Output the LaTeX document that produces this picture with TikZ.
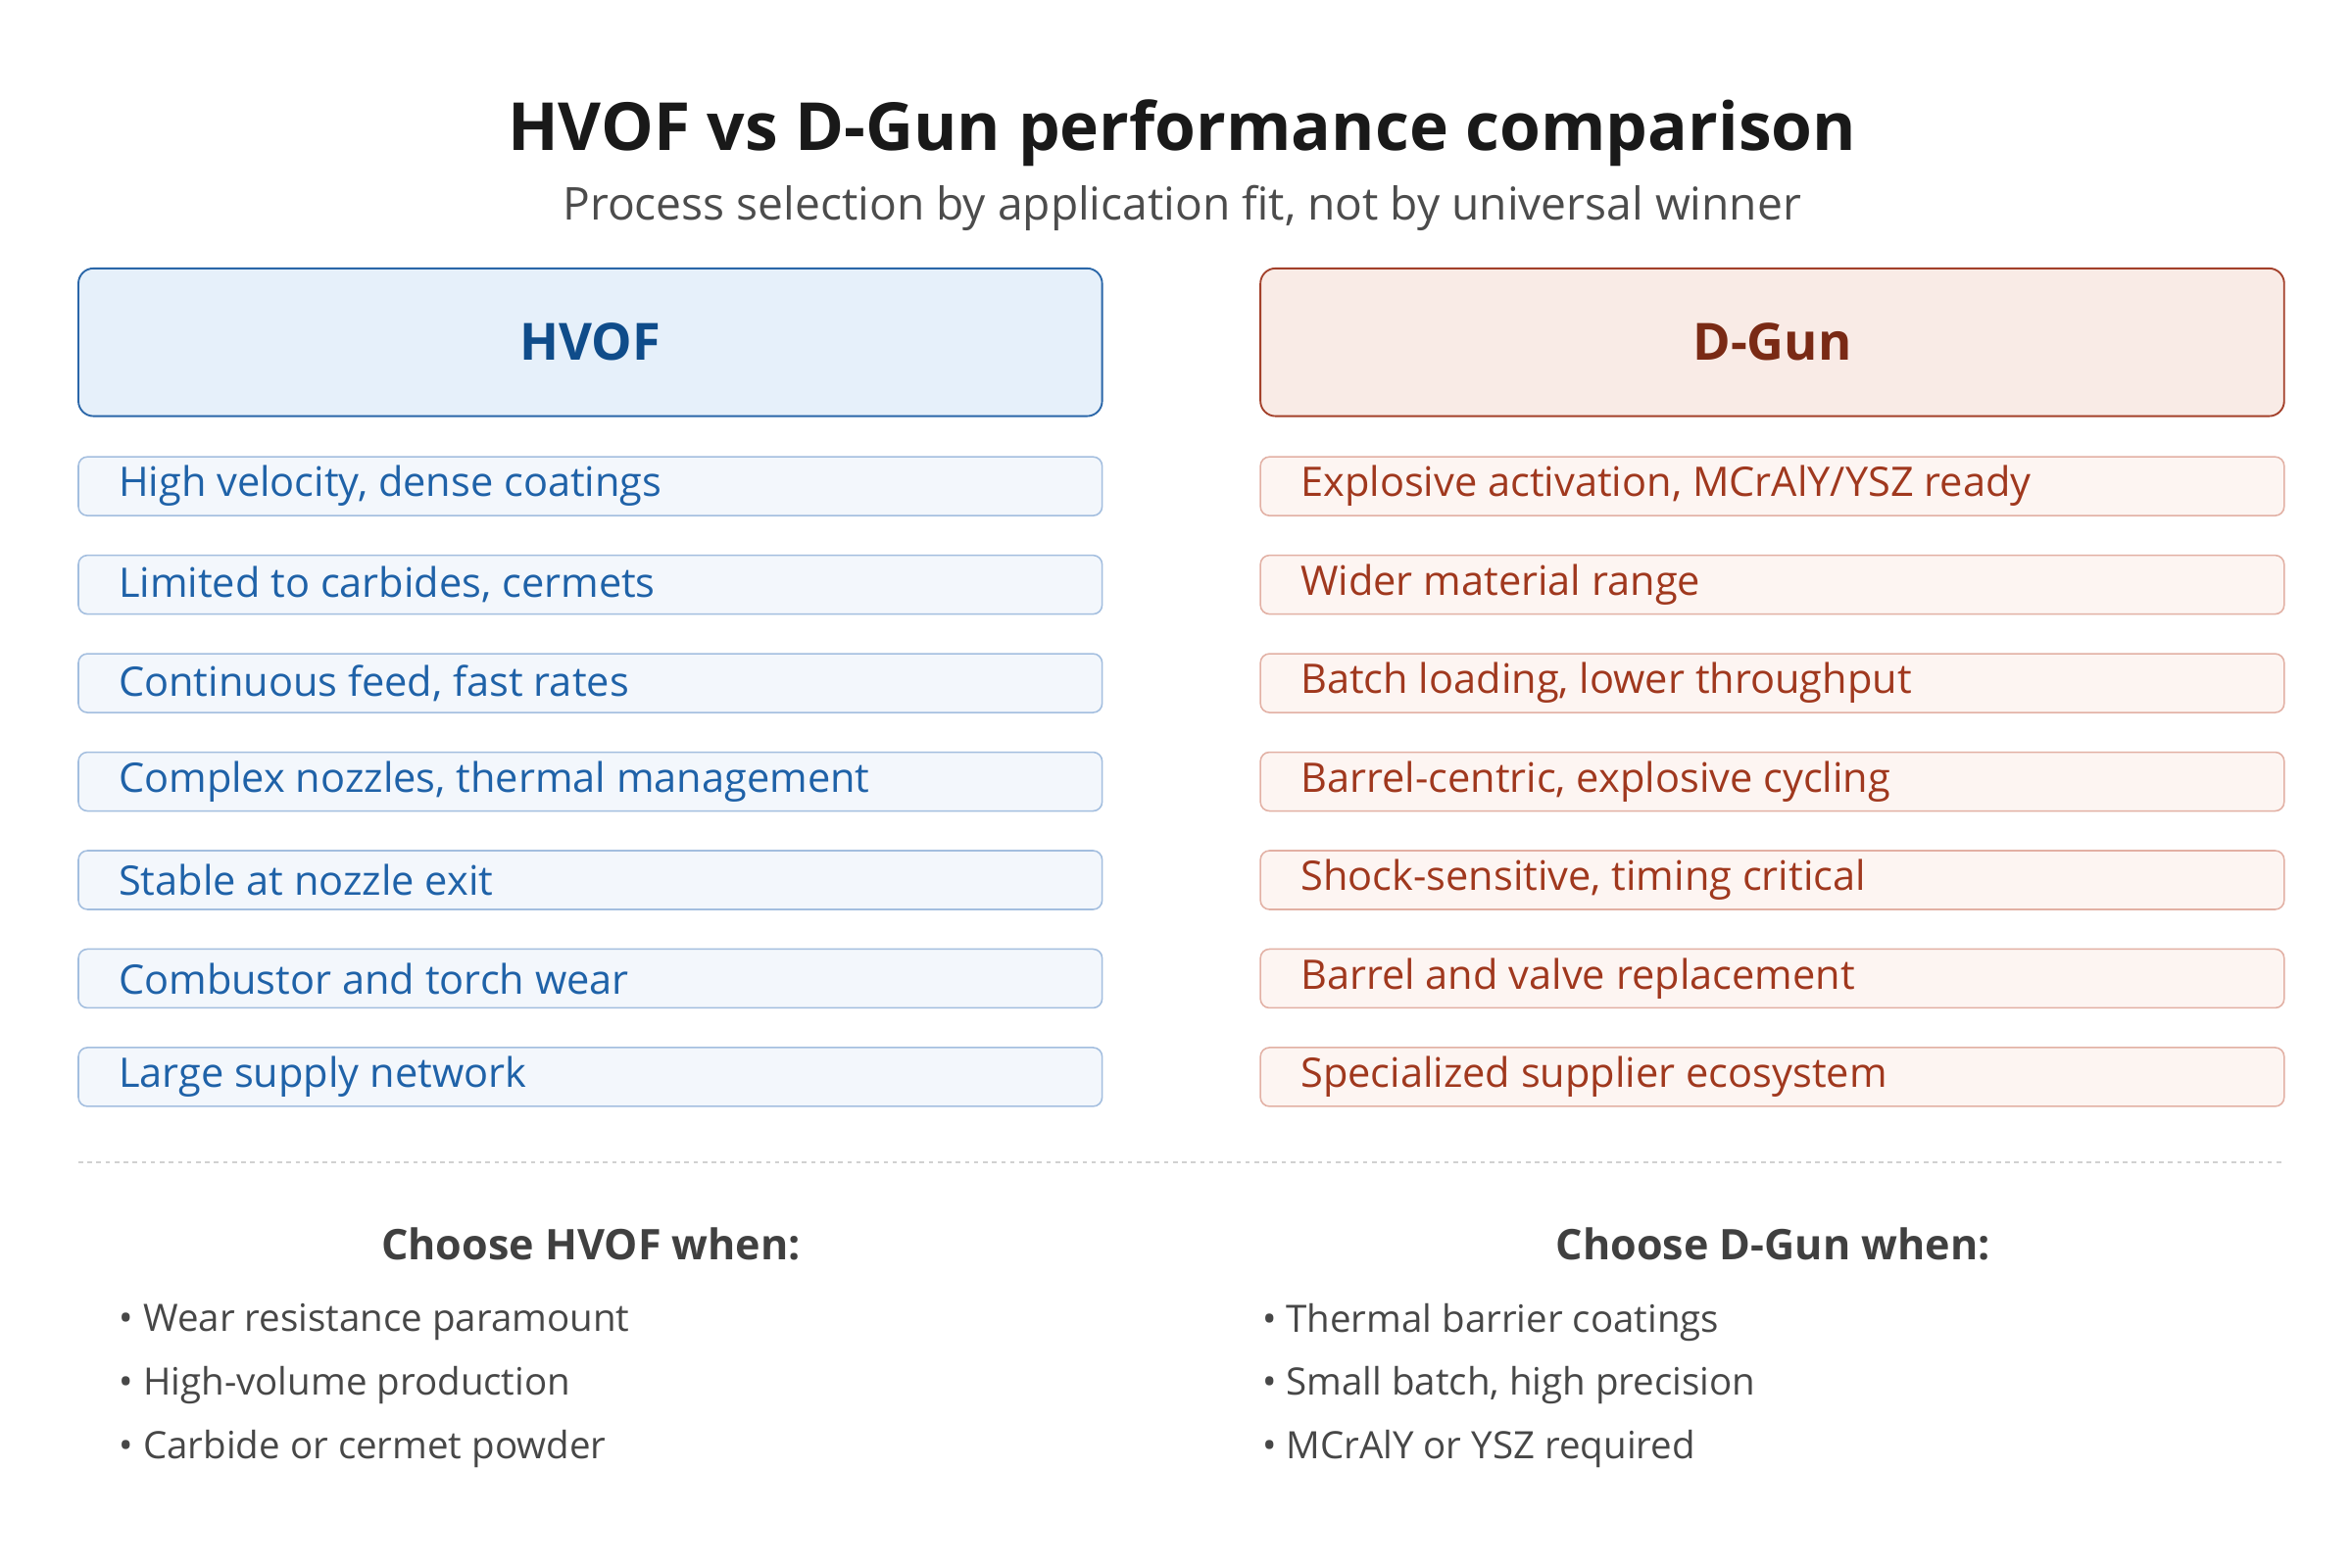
\documentclass[tikz,border=0pt]{standalone}
\usepackage{fontspec}
\setmainfont{Open Sans}
\definecolor{hvline}{HTML}{2A66A8}
\definecolor{hvfill}{HTML}{E6F0FA}
\definecolor{hvtext}{HTML}{0F4C8A}
\definecolor{hvrowfill}{HTML}{F3F7FC}
\definecolor{hvrowline}{HTML}{A3BEDF}
\definecolor{hvrowtext}{HTML}{1F62A8}
\definecolor{dgline}{HTML}{A3402A}
\definecolor{dgfill}{HTML}{F9EBE6}
\definecolor{dgtext}{HTML}{7A2A15}
\definecolor{dgrowfill}{HTML}{FDF5F2}
\definecolor{dgrowline}{HTML}{E2B0A4}
\definecolor{dgrowtext}{HTML}{A0381E}
\tikzset{
  headbox/.style={rounded corners=10pt, line width=1.2pt, minimum width=679pt, minimum height=98pt, font=\fontsize{34}{40}\selectfont\bfseries},
  rowbox/.style={rounded corners=6pt, line width=1pt, minimum width=679pt, minimum height=39pt},
  rowtext/.style={anchor=west, inner sep=0pt, font=\fontsize{27}{32}\selectfont},
  bullet/.style={anchor=west, inner sep=0pt, text=black!72, font=\fontsize{25}{30}\selectfont}
}
\begin{document}
\begin{tikzpicture}[x=1pt, y=-1pt]
\useasboundingbox[fill=white] (0,0) rectangle (1560,1040);

\node[font=\fontsize{44}{52}\selectfont\bfseries, text=black!90] (title) at (784,88) {HVOF vs D-Gun performance comparison};
\node[font=\fontsize{30}{36}\selectfont, text=black!70] (subtitle) at (784,138) {Process selection by application fit, not by universal winner};

\node[headbox, draw=hvline, fill=hvfill, text=hvtext] (hvof) at (391.5,227) {HVOF};
\node[headbox, draw=dgline, fill=dgfill, text=dgtext] (dgun) at (1175.5,227) {D-Gun};

% comparison rows
\foreach \i/\ltxt/\rtxt in {
  0/{High velocity, dense coatings}/{Explosive activation, MCrAlY/YSZ ready},
  1/{Limited to carbides, cermets}/{Wider material range},
  2/{Continuous feed, fast rates}/{Batch loading, lower throughput},
  3/{Complex nozzles, thermal management}/{Barrel-centric, explosive cycling},
  4/{Stable at nozzle exit}/{Shock-sensitive, timing critical},
  5/{Combustor and torch wear}/{Barrel and valve replacement},
  6/{Large supply network}/{Specialized supplier ecosystem}} {
  \node[rowbox, draw=hvrowline, fill=hvrowfill] (hv\i) at (391.5,322.5+65.3*\i) {};
  \node[rowtext, text=hvrowtext] at ([xshift=27pt]hv\i.west) {\ltxt};
  \node[rowbox, draw=dgrowline, fill=dgrowfill] (dg\i) at (1175.5,322.5+65.3*\i) {};
  \node[rowtext, text=dgrowtext] at ([xshift=27pt]dg\i.west) {\rtxt};
}

\draw[black!18, dashed, line width=1pt] (52,771) -- (1515,771);

\node[font=\fontsize{28}{34}\selectfont\bfseries, text=black!75] (hvwhen) at (392,825) {Choose HVOF when:};
\node[font=\fontsize{28}{34}\selectfont\bfseries, text=black!75] (dgwhen) at (1176,825) {Choose D-Gun when:};

\node[bullet] (hb1) at (79,877) {• Wear resistance paramount};
\node[bullet] (hb2) at (79,919) {• High-volume production};
\node[bullet] (hb3) at (79,961) {• Carbide or cermet powder};
\node[bullet] (db1) at (837,877) {• Thermal barrier coatings};
\node[bullet] (db2) at (837,919) {• Small batch, high precision};
\node[bullet] (db3) at (837,961) {• MCrAlY or YSZ required};
\end{tikzpicture}
\end{document}
